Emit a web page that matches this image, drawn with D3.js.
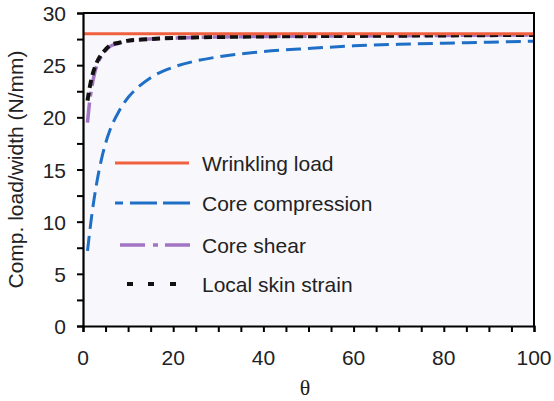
<!DOCTYPE html>
<html>
<head>
<meta charset="utf-8">
<script src="https://cdn.jsdelivr.net/npm/d3@7"></script>
<style>
  body { margin: 0; background: #fff; }
  svg { display: block; font-family: "Liberation Sans", Arial, sans-serif; }
</style>
</head>
<body>
<svg width="554" height="401"></svg>
<script>
// Data
var thetaCompression = [1, 2, 3, 4, 5, 6, 8, 10, 12, 15, 20, 25, 30, 40, 50, 60, 70, 80, 90, 100];
var coreCompression  = [7.2, 10.8, 13.6, 15.8, 17.5, 18.8, 20.6, 21.9, 22.8, 23.8, 24.8, 25.4, 25.8, 26.3, 26.6, 26.85, 27.0, 27.1, 27.2, 27.3];

var thetaFast = [1, 1.5, 2, 3, 4, 5, 6, 8, 10, 13, 20, 30, 40, 60, 80, 100];
var coreShear = [19.5, 21.6, 23.0, 24.9, 25.8, 26.4, 26.8, 27.1, 27.3, 27.45, 27.6, 27.7, 27.75, 27.8, 27.85, 27.9];
var skinStrain = [21.6, 22.9, 23.9, 25.2, 26.0, 26.5, 26.9, 27.15, 27.35, 27.45, 27.6, 27.7, 27.75, 27.8, 27.85, 27.9];

var wrinklingTheta = [0, 100];
var wrinklingLoad = [28, 28];

var xTicks = [0, 20, 40, 60, 80, 100];
var yTicks = [0, 5, 10, 15, 20, 25, 30];

var legendLabels = ["Wrinkling load", "Core compression", "Core shear", "Local skin strain"];

//==========================================================================
var svg = d3.select("svg");
var x0 = 83, x1 = 534, y0 = 326, y1 = 13;

var x = d3.scaleLinear().domain([0, 100]).range([x0, x1]);
var y = d3.scaleLinear().domain([0, 30]).range([y0, y1]);

// plot background
svg.append("rect")
    .attr("x", x0).attr("y", y1)
    .attr("width", x1 - x0).attr("height", y0 - y1)
    .attr("fill", "#f8f8fc");

// series (legend dash patterns differ from the curves in the original)
var series = [
    { name: legendLabels[1], xs: thetaCompression, ys: coreCompression, color: "#1f6fc6", width: 3, dash: "15,7", legend: [115, 190], legendDash: "8,7,27,6,27,20" },
    { name: legendLabels[2], xs: thetaFast, ys: coreShear, color: "#a274c4", width: 3.5, dash: "20,6,5,6", legend: [120, 190], legendDash: "25,8,5,7,25,20" },
    { name: legendLabels[3], xs: thetaFast, ys: skinStrain, color: "#111", width: 4, dash: "8,5", legend: [127, 176], legendDash: "6,15,6,16,6,20" },
    { name: legendLabels[0], xs: wrinklingTheta, ys: wrinklingLoad, color: "#f0603f", width: 3, dash: null, legend: [115, 189], legendDash: null }
];

var line = d3.line()
    .x(function(d) { return x(d[0]); })
    .y(function(d) { return y(d[1]); })
    .curve(d3.curveMonotoneX);

series.forEach(function(s) {
    svg.append("path")
        .datum(d3.zip(s.xs, s.ys))
        .attr("d", line)
        .attr("fill", "none")
        .attr("stroke", s.color)
        .attr("stroke-width", s.width)
        .attr("stroke-dasharray", s.dash);
});

// frame
svg.append("path")
    .attr("d", "M" + x0 + "," + y1 + "H" + x1 + "V" + y0)
    .attr("fill", "none")
    .attr("stroke", "#000")
    .attr("stroke-width", 2);

// axes
var xAxis = svg.append("g")
    .attr("transform", "translate(0," + y0 + ")")
    .call(d3.axisBottom(x).tickValues(d3.range(0, 101, 5)).tickSize(6).tickFormat(""));
var yAxis = svg.append("g")
    .attr("transform", "translate(" + x0 + ",0)")
    .call(d3.axisLeft(y).tickValues(d3.range(0, 30.1, 2.5)).tickSize(6).tickFormat(""));

[xAxis, yAxis].forEach(function(g) {
    g.select(".domain").attr("stroke", "#000").attr("stroke-width", 2.2);
    g.selectAll(".tick line").attr("stroke", "#000").attr("stroke-width", 2);
});

svg.selectAll(".x-label")
    .data(xTicks).enter().append("text")
    .attr("x", function(d) { return x(d); })
    .attr("y", 365)
    .attr("text-anchor", "middle")
    .attr("font-size", 21)
    .attr("fill", "#222")
    .text(function(d) { return d; });

svg.selectAll(".y-label")
    .data(yTicks).enter().append("text")
    .attr("x", 66)
    .attr("y", function(d) { return y(d) + 8; })
    .attr("text-anchor", "end")
    .attr("font-size", 21)
    .attr("fill", "#222")
    .text(function(d) { return d; });

svg.append("text")
    .attr("transform", "translate(23," + ((y0 + y1) / 2) + ") rotate(-90)")
    .attr("text-anchor", "middle")
    .attr("font-size", 21)
    .attr("fill", "#222")
    .text("Comp. load/width (N/mm)");

svg.append("text")
    .attr("x", 305)
    .attr("y", 395)
    .attr("text-anchor", "middle")
    .attr("font-family", "'Liberation Serif', 'Times New Roman', serif")
    .attr("font-size", 22)
    .attr("fill", "#222")
    .text("θ");

// legend
var legendOrder = [series[3], series[0], series[1], series[2]];
var legendY = [163, 203, 245, 284];
legendOrder.forEach(function(s, i) {
    svg.append("line")
        .attr("x1", s.legend[0]).attr("x2", s.legend[1])
        .attr("y1", legendY[i]).attr("y2", legendY[i])
        .attr("stroke", s.color)
        .attr("stroke-width", s.width)
        .attr("stroke-dasharray", s.legendDash);
    svg.append("text")
        .attr("x", 202)
        .attr("y", legendY[i] + 8)
        .attr("font-size", 21)
        .attr("fill", "#222")
        .text(s.name);
});
</script>
</body>
</html>
